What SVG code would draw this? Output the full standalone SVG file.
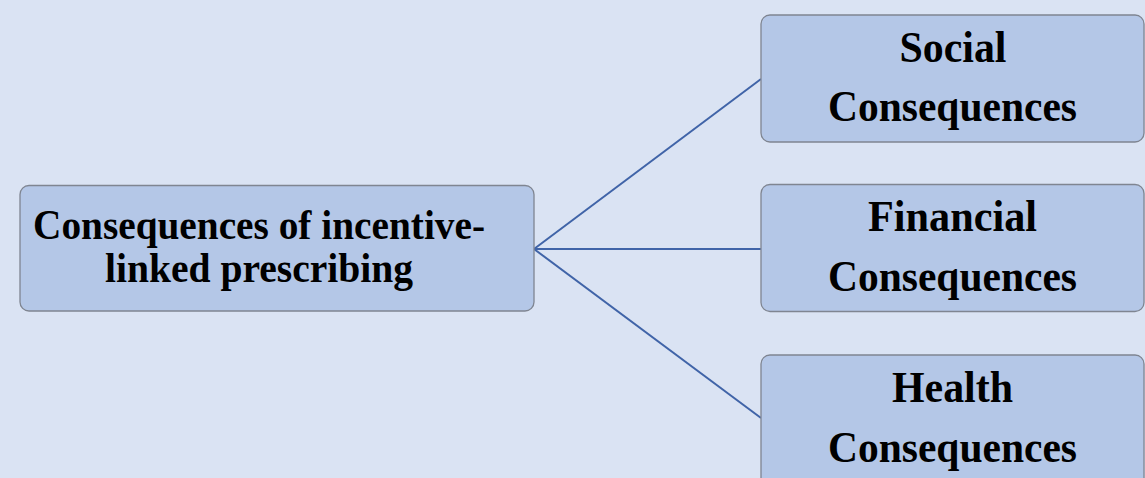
<svg xmlns="http://www.w3.org/2000/svg" width="1145" height="478" viewBox="0 0 1145 478">
<style>
.box{fill:#b4c7e7;stroke:#7f8591;stroke-width:1.3}
.t{font-family:"Liberation Serif","Times New Roman",serif;font-weight:bold;fill:#000;text-anchor:middle}
.l{font-size:42.5px}
.r{font-size:44px}
.c{stroke:#4064a8;stroke-width:2;fill:none}
</style>
<rect x="0" y="0" width="1145" height="478" fill="#dae3f3"/>
<g id="connectors">
<line class="c" x1="534" y1="249" x2="761" y2="79"/>
<line class="c" x1="534" y1="249" x2="761" y2="249"/>
<line class="c" x1="534" y1="249" x2="761" y2="418"/>
</g>
<g id="root">
<rect class="box" x="20" y="185.5" width="514" height="125.5" rx="9"/>
<text class="t l" x="259" y="239" textLength="452" lengthAdjust="spacingAndGlyphs">Consequences of incentive-</text>
<text class="t l" x="259" y="282" textLength="308" lengthAdjust="spacingAndGlyphs">linked prescribing</text>
</g>
<g id="social">
<rect class="box" x="761" y="15" width="383" height="127" rx="9"/>
<text class="t r" x="953" y="62" textLength="107" lengthAdjust="spacingAndGlyphs">Social</text>
<text class="t r" x="952.5" y="121" textLength="249" lengthAdjust="spacingAndGlyphs">Consequences</text>
</g>
<g id="financial">
<rect class="box" x="761" y="184.5" width="383" height="127" rx="9"/>
<text class="t r" x="952.5" y="231" textLength="169" lengthAdjust="spacingAndGlyphs">Financial</text>
<text class="t r" x="952.5" y="291" textLength="249" lengthAdjust="spacingAndGlyphs">Consequences</text>
</g>
<g id="health">
<rect class="box" x="761" y="355" width="383" height="140" rx="9"/>
<text class="t r" x="952.5" y="402" textLength="121" lengthAdjust="spacingAndGlyphs">Health</text>
<text class="t r" x="952.5" y="462" textLength="249" lengthAdjust="spacingAndGlyphs">Consequences</text>
</g>
</svg>
